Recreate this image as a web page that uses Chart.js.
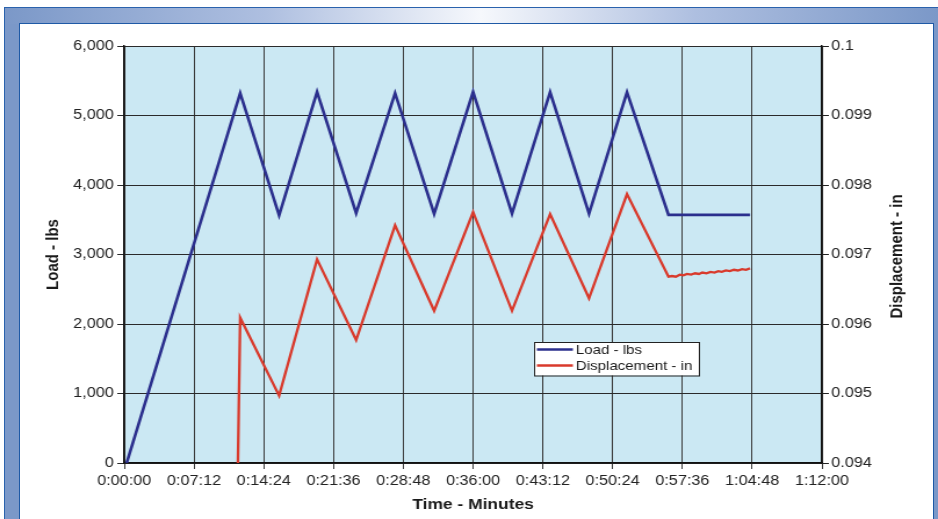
<!DOCTYPE html>
<html>
<head>
<meta charset="utf-8">
<script src="https://cdn.jsdelivr.net/npm/chart.js@4/dist/chart.umd.min.js"></script>
<style>
  html, body { margin: 0; padding: 0; background: #fff; width: 938px; height: 519px; overflow: hidden; }
  #frame { position: absolute; left: 4px; top: 7px; width: 950px; height: 540px; background: #7b98c8; border: 1px solid #2a62ad; box-sizing: border-box; }
  #band { position: absolute; left: 5px; top: 8px; width: 933px; height: 16px;
          background: linear-gradient(to right, #7b98c8 0%, #aebfe0 28%, #f6f8fc 51%, #aebfe0 74%, #7b98c8 100%); }
  #panel { position: absolute; left: 19px; top: 23px; width: 915px; height: 520px; background: #fff; border: 1.5px solid #1f5aa6; box-sizing: border-box; }
  #wrap { position: absolute; left: 0; top: 0; width: 808px; height: 519px; transform: scaleX(1.16089); transform-origin: 0 0; }
</style>
</head>
<body>
<div id="frame"></div>
<div id="band"></div>
<div id="panel"></div>
<div id="wrap"><canvas id="chart" width="808" height="519"></canvas></div>
<script>
// Elapsed time in seconds and load in pounds
const loadTimes = [15, 718, 959, 1194, 1436, 1677, 1919, 2160, 2401, 2637, 2878, 3113, 3370, 3875];
const loadLbs   = [0, 5320, 3565, 5340, 3595, 5320, 3585, 5340, 3590, 5335, 3590, 5335, 3570, 3570];

// Elapsed time in seconds and displacement in inches
const dispTimes = [704, 718, 959, 1194, 1436, 1677, 1919, 2160, 2401, 2637, 2878, 3113,
                   3370, 3392, 3415, 3440, 3462, 3485, 3510, 3535, 3558, 3580, 3605,
                   3630, 3655, 3678, 3700, 3725, 3750, 3775, 3800, 3825, 3850, 3875];
const dispIn    = [0.0940, 0.09609, 0.09497, 0.09693, 0.09577, 0.09742, 0.09619, 0.09761, 0.09619, 0.09758, 0.09637, 0.09787,
                   0.09668, 0.09669, 0.09668, 0.09671, 0.09670, 0.09672, 0.09671, 0.09673, 0.09672, 0.09674, 0.09673,
                   0.09675, 0.09674, 0.09676, 0.09675, 0.09677, 0.09676, 0.09678, 0.09677, 0.09679, 0.09678, 0.09680];

// Axis ranges and tick steps
const timeRange = [0, 4320];
const timeStep = 432;
const loadRange = [0, 6000];
const loadStep = 1000;
const dispRange = [0.094, 0.1];
const dispStep = 0.001;

const seriesNames = ['Load - lbs', 'Displacement - in'];
const axisTitles = { x: 'Time - Minutes', y: 'Load - lbs', y2: 'Displacement - in' };

const FONT = 'Liberation Sans, Arial, Helvetica, sans-serif';
Chart.defaults.font.family = FONT;

function hms(sec) {
  const h = Math.floor(sec / 3600);
  const m = Math.floor((sec % 3600) / 60);
  const s = Math.round(sec % 60);
  return h + ':' + String(m).padStart(2, '0') + ':' + String(s).padStart(2, '0');
}

// Light blue plot background
const plotBackground = {
  id: 'plotBackground',
  beforeDraw(chart) {
    const { ctx, chartArea: a } = chart;
    ctx.save();
    ctx.fillStyle = '#cbe8f3';
    ctx.fillRect(a.left, a.top, a.right - a.left, a.bottom - a.top);
    ctx.restore();
  }
};

// Axis titles and the boxed legend inside the plot
const annotations = {
  id: 'annotations',
  afterDraw(chart) {
    const { ctx, chartArea: a } = chart;
    ctx.save();
    ctx.fillStyle = '#1a1a1a';
    ctx.font = 'bold 15px ' + FONT;
    ctx.textAlign = 'center';
    ctx.textBaseline = 'middle';
    ctx.fillText(axisTitles.x, (a.left + a.right) / 2, 505);

    ctx.save();
    ctx.translate(45.5, (a.top + a.bottom) / 2);
    ctx.rotate(-Math.PI / 2);
    ctx.fillText(axisTitles.y, 0, 0);
    ctx.restore();

    ctx.save();
    ctx.translate(773, (a.top + a.bottom) / 2 + 2);
    ctx.rotate(-Math.PI / 2);
    ctx.fillText(axisTitles.y2, 0, 0);
    ctx.restore();

    // legend
    const lx = 460, ly = 342, lw = 142, lh = 33.5;
    ctx.fillStyle = '#ffffff';
    ctx.fillRect(lx, ly, lw, lh);
    ctx.strokeStyle = '#222';
    ctx.lineWidth = 1;
    ctx.strokeRect(lx + 0.5, ly + 0.5, lw, lh);
    const rows = [349.5, 365.5];
    chart.data.datasets.forEach((ds, i) => {
      ctx.strokeStyle = ds.borderColor;
      ctx.lineWidth = 2.5;
      ctx.beginPath();
      ctx.moveTo(462.5, rows[i]);
      ctx.lineTo(493.5, rows[i]);
      ctx.stroke();
      ctx.fillStyle = '#1a1a1a';
      ctx.font = '13px ' + FONT;
      ctx.textAlign = 'left';
      ctx.textBaseline = 'middle';
      ctx.fillText(ds.label, 496, rows[i] + 1);
    });
    ctx.restore();
  }
};

const loadPoints = loadTimes.map((t, i) => ({ x: t, y: loadLbs[i] }));
const dispPoints = dispTimes.map((t, i) => ({ x: t, y: dispIn[i] }));

new Chart(document.getElementById('chart'), {
  type: 'line',
  data: {
    datasets: [
      { label: seriesNames[0], data: loadPoints, yAxisID: 'y', borderColor: '#2b2f8d', borderWidth: 2.6, pointRadius: 0, tension: 0 },
      { label: seriesNames[1], data: dispPoints, yAxisID: 'y2', borderColor: '#d93a2c', borderWidth: 2.3, pointRadius: 0, tension: 0 }
    ]
  },
  options: {
    responsive: false,
    animation: false,
    events: [],
    layout: { padding: { left: 0, right: 0, top: 46, bottom: 0 } },
    plugins: { legend: { display: false }, tooltip: { enabled: false } },
    scales: {
      x: {
        type: 'linear',
        min: timeRange[0], max: timeRange[1],
        ticks: { stepSize: timeStep, callback: v => hms(v), color: '#222', font: { size: 14 }, padding: 4, maxRotation: 0, autoSkip: false },
        grid: { color: '#3a3a3a', lineWidth: 1, tickLength: 6 },
        border: { display: true, color: '#111', width: 1.5 },
        afterFit(s) { s.height = 56; }
      },
      y: {
        position: 'left',
        min: loadRange[0], max: loadRange[1],
        ticks: { stepSize: loadStep, callback: v => v.toLocaleString('en-US'), color: '#222', font: { size: 14 }, padding: 3 },
        grid: { color: '#2a2a2a', lineWidth: 1, tickLength: 6 },
        border: { display: true, color: '#111', width: 1.5 },
        afterFit(s) { s.width = 107; }
      },
      y2: {
        position: 'right',
        min: dispRange[0], max: dispRange[1],
        ticks: { stepSize: dispStep, callback: v => String(parseFloat(v.toFixed(3))), color: '#222', font: { size: 14 }, padding: 2 },
        grid: { drawOnChartArea: false, color: '#222', lineWidth: 1, tickLength: 6 },
        border: { display: true, color: '#111', width: 1.5 },
        afterFit(s) { s.width = 100; }
      }
    }
  },
  plugins: [plotBackground, annotations]
});
</script>
</body>
</html>
